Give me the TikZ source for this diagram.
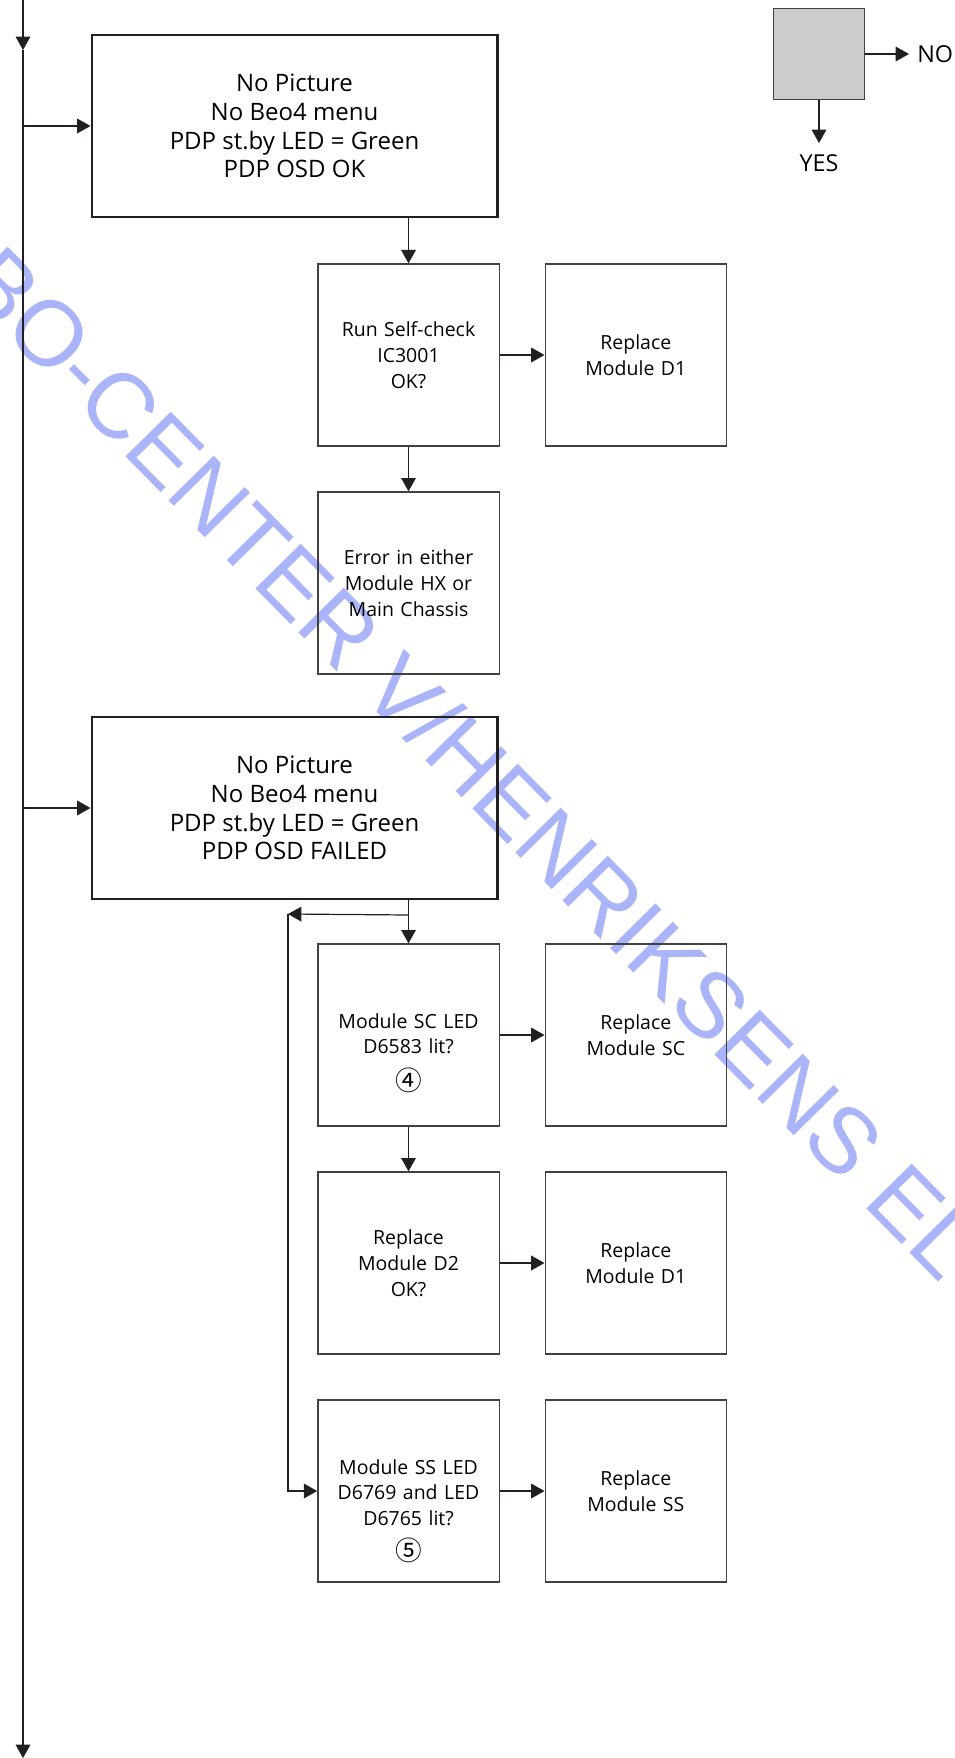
\documentclass[tikz,border=0pt]{standalone}
\usepackage{fontspec}
\setmainfont{Open Sans}
\newfontfamily\circfont{Noto Sans CJK JP}
\newfontfamily\stampfont{Liberation Sans}
\usetikzlibrary{arrows.meta, positioning}
\definecolor{lineDark}{RGB}{35, 31, 32}
\definecolor{keyGray}{RGB}{204, 204, 204}
\definecolor{stampBlue}{RGB}{170, 180, 248}
\newcommand{\circnum}[1]{{\circfont\fontsize{20}{20}\selectfont #1}}

\begin{document}
\begin{tikzpicture}[
    x=0.75pt, y=-0.75pt,
    node distance=33.5pt and 33.5pt,
    symptom/.style={
        rectangle,
        draw=lineDark,
        line width=2pt,
        minimum width=304pt,
        minimum height=136.5pt,
        align=center,
        font=\fontsize{18}{21.5}\selectfont
    },
    testbox/.style={
        rectangle,
        draw=lineDark!85,
        line width=1pt,
        minimum width=136pt,
        minimum height=136.5pt,
        text width=128pt,
        align=center,
        font=\fontsize{14.6}{19.3}\selectfont
    },
    keybox/.style={
        rectangle,
        draw=lineDark!85,
        line width=1pt,
        fill=keyGray,
        minimum width=68pt,
        minimum height=68pt
    },
    keytext/.style={
        inner sep=0pt,
        font=\fontsize{17.5}{20}\selectfont
    },
    flow/.style={
        -{Triangle[length=10pt, width=11pt]},
        line width=0.9pt,
        color=lineDark
    }
]
\useasboundingbox (0,0) rectangle (954,1758);

% Stamp across the page
\begin{scope}
\clip (0,0) rectangle (954,1758);
\node[rotate=-45.4, text=stampBlue, font=\stampfont\fontsize{69.5}{69.5}\selectfont] (stamp) at (473,762) {BO-CENTER V/HENRIKSENS EL};
\end{scope}

% Key
\node[keybox] (key) at (819,54) {};
\node[keytext, anchor=west, inner xsep=6pt] (no) at (909,54) {NO};
\node[keytext, anchor=north, inner ysep=8.25pt] (yes) at (819,143) {YES};
\draw[flow] (key.east) -- (no.west);
\draw[flow] (key.south) -- (yes.north);

% Main line
\coordinate (spine0) at (23,0);
\coordinate (spine1) at (23,50);
\coordinate (spine2) at (23,1758);
\draw[flow] (spine0) -- (spine1);
\draw[flow] (spine1) -- (spine2);

% First symptom
\node[symptom] (okay) at (294.5,126) {No Picture\\No Beo4 menu\\PDP st.by LED = Green\\PDP OSD OK};
\node[testbox] (selfcheck) at (408.5,355) {Run Self-check\\IC3001\\OK?};
\node[testbox, right=of selfcheck] (replaced1a) {Replace\\Module D1};
\node[testbox, below=of selfcheck] (errorhx) {Error in either\\Module HX or\\Main Chassis};

\draw[flow] (okay.west -| spine0) -- (okay.west);
\draw[flow] (okay.south -| selfcheck.north) -- (selfcheck.north);
\draw[flow] (selfcheck) -- (replaced1a);
\draw[flow] (selfcheck) -- (errorhx);

% Second symptom
\node[symptom] (failed) at (294.5,808) {No Picture\\No Beo4 menu\\PDP st.by LED = Green\\PDP OSD FAILED};
\node[testbox, text height=10pt, text depth=20.5pt] (ledsc) at (408.5,1035) {Module SC LED\\D6583 lit?\\[8pt]\circnum{④}};
\node[testbox, right=of ledsc] (replacesc) {Replace\\Module SC};
\node[testbox, below=of ledsc] (replaced2) {Replace\\Module D2\\OK?};
\node[testbox, right=of replaced2] (replaced1b) {Replace\\Module D1};
\node[testbox, below=of replaced2, text height=10pt, text depth=35.5pt] (ledss) {Module SS LED\\D6769 and LED\\D6765 lit?\\[7pt]\circnum{⑤}};
\node[testbox, right=of ledss] (replacess) {Replace\\Module SS};

\draw[flow] (failed.west -| spine0) -- (failed.west);
\draw[flow] (failed.south -| ledsc.north) -- (ledsc.north);
\draw[flow] (ledsc) -- (replacesc);
\draw[flow] (ledsc) -- (replaced2);
\draw[flow] (replaced2) -- (replaced1b);
\draw[flow] (ledss) -- (replacess);

% Loop back to the last check
\coordinate (split) at ([yshift=-11pt]failed.south -| ledsc.north);
\coordinate (loop) at (288,914);
\draw[flow] (split) -- (loop);
\draw[flow] (loop) |- (ledss.west);

\end{tikzpicture}
\end{document}
